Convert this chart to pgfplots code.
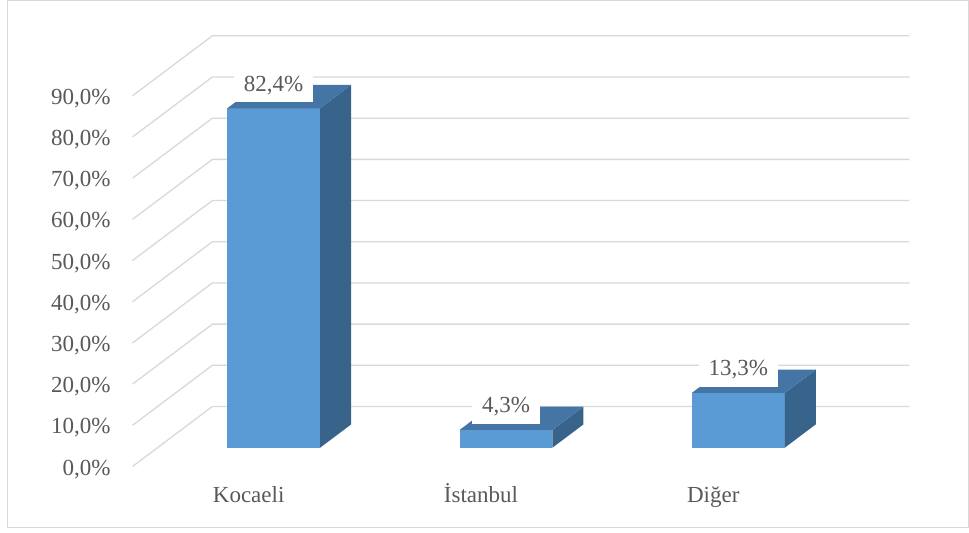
\documentclass[border=0pt]{standalone}
\usepackage{fontspec}
\setmainfont{Liberation Serif}
\usepackage{pgfplots}
\pgfplotsset{compat=1.18}
\definecolor{barfront}{RGB}{91,155,213}
\definecolor{bartop}{RGB}{69,117,165}
\definecolor{barside}{RGB}{56,99,138}
\definecolor{gridgray}{RGB}{217,217,217}
\definecolor{txtgray}{RGB}{89,89,89}

\begin{document}
\begin{tikzpicture}[font=\fontsize{23}{27}\selectfont]
\begin{axis}[
    x={(232.3pt,0pt)}, y={(31pt,23.3pt)}, z={(0pt,4.119pt)},
    xmin=-0.5, xmax=2.5, ymin=-0.807, ymax=1.768, zmin=0, zmax=90,
    hide axis, clip=false,
]
% page area and frame
\fill[white] (axis cs:-1.17822,0,108.6915) rectangle (axis cs:2.99311,0,-20.7089);
\coordinate (bbA) at (axis cs:-1.17822,0,108.6915);
\coordinate (bbB) at (axis cs:2.99311,0,-20.7089);
\draw[gridgray, line width=1pt] (axis cs:-1.14378,0,108.449) rectangle (axis cs:2.98881,0,-19.495);

% side wall + back wall gridlines, tick labels
\pgfplotsinvokeforeach{0,10,...,90}{
  \draw[gridgray, line width=1.3pt] (axis cs:-0.5,-0.807,#1) -- (axis cs:-0.5,1.768,#1) -- (axis cs:2.5,1.768,#1);
  \node[anchor=base east, text=txtgray, inner sep=0pt, xshift=-21.8pt, yshift=-8.6pt] at (axis cs:-0.5,-0.807,#1) {#1,0\%};
}

% Kocaeli 82.4
\addplot3[draw=none, fill=barfront] coordinates {(-0.2,0,0) (0.2,0,0) (0.2,0,82.4) (-0.2,0,82.4)};
\addplot3[draw=none, fill=barside] coordinates {(0.2,0,0) (0.2,1,0) (0.2,1,82.4) (0.2,0,82.4)};
\addplot3[draw=none, fill=bartop] coordinates {(-0.2,0,82.4) (0.2,0,82.4) (0.2,1,82.4) (-0.2,1,82.4)};
% Istanbul 4.3
\addplot3[draw=none, fill=barfront] coordinates {(0.8,0,0) (1.2,0,0) (1.2,0,4.3) (0.8,0,4.3)};
\addplot3[draw=none, fill=barside] coordinates {(1.2,0,0) (1.2,1,0) (1.2,1,4.3) (1.2,0,4.3)};
\addplot3[draw=none, fill=bartop] coordinates {(0.8,0,4.3) (1.2,0,4.3) (1.2,1,4.3) (0.8,1,4.3)};
% Diger 13.3
\addplot3[draw=none, fill=barfront] coordinates {(1.8,0,0) (2.2,0,0) (2.2,0,13.3) (1.8,0,13.3)};
\addplot3[draw=none, fill=barside] coordinates {(2.2,0,0) (2.2,1,0) (2.2,1,13.3) (2.2,0,13.3)};
\addplot3[draw=none, fill=bartop] coordinates {(1.8,0,13.3) (2.2,0,13.3) (2.2,1,13.3) (1.8,1,13.3)};

% data labels
\tikzset{dlabel/.style={fill=white, text=txtgray, inner xsep=10pt, inner ysep=1pt, text height=17pt, text depth=10pt, anchor=base, yshift=17pt}}
\node[dlabel] at (axis cs:0,0,82.4) {82,4\%};
\node[dlabel] at (axis cs:1,0,4.3) {4,3\%};
\node[dlabel] at (axis cs:2,0,13.3) {13,3\%};

% category labels
\node[anchor=base, text=txtgray, yshift=-36pt] at (axis cs:0,-0.807,0) {Kocaeli};
\node[anchor=base, text=txtgray, yshift=-36pt] at (axis cs:1,-0.807,0) {İstanbul};
\node[anchor=base, text=txtgray, yshift=-36pt] at (axis cs:2,-0.807,0) {Diğer};
\end{axis}
\pgfresetboundingbox
\path (bbA) rectangle (bbB);
\end{tikzpicture}
\end{document}
